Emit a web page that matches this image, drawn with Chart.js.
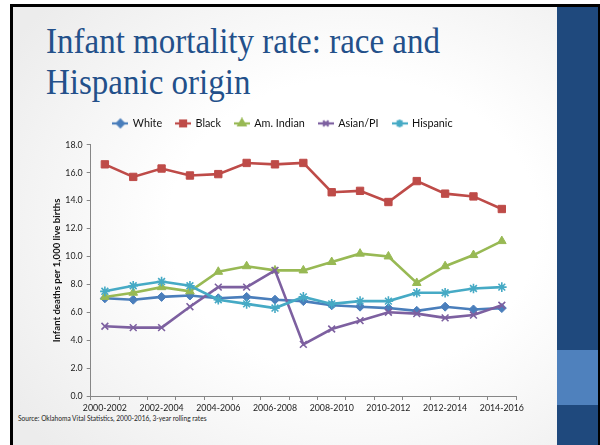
<!DOCTYPE html>
<html>
<head>
<meta charset="utf-8">
<script src="https://cdn.jsdelivr.net/npm/chart.js@4"></script>
<style>
html,body{margin:0;padding:0;}
body{width:600px;height:445px;position:relative;overflow:hidden;background:#fff;font-family:Lato,"Open Sans",sans-serif;}
#frame{position:absolute;left:10px;top:4px;width:590px;height:441px;box-sizing:border-box;border-left:3px solid #000;border-top:3px solid #000;
  background:radial-gradient(ellipse 70% 75% at 58% 50%, #ffffff 45%, #ececec 100%);}
#side{position:absolute;left:557px;top:7px;width:41px;height:438px;background:#1F497D;}
#sideLight{position:absolute;left:557px;top:350px;width:41px;height:55px;background:#4F81BD;}
#rightEdge{position:absolute;left:598px;top:4px;width:2px;height:441px;background:#000;}
#title{position:absolute;left:46px;top:21px;font-family:"Liberation Serif","DejaVu Serif",serif;font-size:35px;line-height:41px;color:#23508A;white-space:nowrap;transform-origin:0 0;}
#source{position:absolute;left:18px;top:414px;font-size:6.6px;color:#222;white-space:nowrap;}
#wrap{position:absolute;left:0;top:0;width:600px;height:445px;}
</style>
</head>
<body>
<div id="frame"></div>
<div id="side"></div>
<div id="sideLight"></div>
<div id="rightEdge"></div>
<div id="title"><span id="t1">Infant mortality rate: race and</span><br><span>Hispanic origin</span></div>
<div id="source">Source: Oklahoma Vital Statistics, 2000-2016, 3-year rolling rates</div>
<div id="wrap"><canvas id="c" width="600" height="445"></canvas></div>
<script>
// ---- data ----
const categories = ['2000-2002','2001-2003','2002-2004','2003-2005','2004-2006','2005-2007','2006-2008','2007-2009',
  '2008-2010','2009-2011','2010-2012','2011-2013','2012-2014','2013-2015','2014-2016'];
const seriesNames = ['White','Black','Am. Indian','Asian/PI','Hispanic'];
const white    = [7.0,6.9,7.1,7.2,7.0,7.1,6.9,6.8,6.5,6.4,6.3,6.1,6.4,6.2,6.3];
const black    = [16.6,15.7,16.3,15.8,15.9,16.7,16.6,16.7,14.6,14.7,13.9,15.4,14.5,14.3,13.4];
const amIndian = [7.1,7.4,7.8,7.5,8.9,9.3,9.0,9.0,9.6,10.2,10.0,8.1,9.3,10.1,11.1];
const asianPI  = [5.0,4.9,4.9,6.4,7.8,7.8,9.0,3.7,4.8,5.4,6.0,5.9,5.6,5.8,6.5];
const hispanic = [7.5,7.9,8.2,7.9,6.9,6.6,6.3,7.1,6.6,6.8,6.8,7.4,7.4,7.7,7.8];
const yTicks = {min:0, max:18, step:2};

// ---- title fit ----
(function(){
  const t1 = document.getElementById('t1');
  const w = t1.getBoundingClientRect().width;
  document.getElementById('title').style.transform = 'scaleX(' + (394 / w) + ')';
})();

const colors  = ['#4A7EBB','#BE4B48','#98B954','#7D60A0','#46AAC5'];
const styles  = ['rectRot','rect','triangle','crossRot','star'];
const radii   = [4.5,5.2,5,4.8,4.8];
const values  = [white, black, amIndian, asianPI, hispanic];

function makeIcon(color, style, r){
  const c = document.createElement('canvas');
  c.width = 16; c.height = 12;
  const ctx = c.getContext('2d');
  ctx.strokeStyle = color; ctx.lineWidth = 2.2;
  ctx.beginPath(); ctx.moveTo(0,6); ctx.lineTo(16,6); ctx.stroke();
  ctx.fillStyle = color; ctx.strokeStyle = color;
  if (Chart.helpers && Chart.helpers.drawPoint) {
    Chart.helpers.drawPoint(ctx, {pointStyle: style, radius: r, borderWidth: 1.5, rotation: 0}, 8, 6);
  }
  return c;
}
const icons = colors.map((c,i) => makeIcon(c, styles[i], radii[i]*0.8));

const datasets = values.map((v,i) => ({
  label: seriesNames[i],
  data: v,
  borderColor: colors[i],
  backgroundColor: colors[i],
  borderWidth: 2.6,
  pointStyle: styles[i],
  pointRadius: radii[i],
  pointBorderWidth: (styles[i]==='crossRot'||styles[i]==='star') ? 1.6 : 1,
  pointBorderColor: colors[i],
  pointBackgroundColor: colors[i],
  tension: 0,
  order: 5 - i
}));

const legendGap = {
  id: 'legendGap',
  beforeInit(chart){
    const lg = chart.legend;
    if (!lg) return;
    const fit = lg.fit;
    lg.fit = function(){ fit.call(this); this.height += 6; };
  }
};

new Chart(document.getElementById('c'), {
  type: 'line',
  data: {labels: categories, datasets: datasets},
  plugins: [legendGap],
  options: {
    responsive: false,
    animation: false,
    events: [],
    layout: {padding: {left: 50, right: 84, top: 104, bottom: 29}},
    plugins: {
      tooltip: {enabled: false},
      legend: {
        position: 'top',
        labels: {
          usePointStyle: true,
          pointStyleWidth: 14,
          padding: 14,
          color: '#111',
          font: {family: 'Lato', size: 10.8},
          sort: (a,b) => a.datasetIndex - b.datasetIndex,
          generateLabels: (chart) => Chart.defaults.plugins.legend.labels.generateLabels(chart)
            .map(l => Object.assign(l, {pointStyle: icons[l.datasetIndex]}))
        }
      }
    },
    scales: {
      x: {
        offset: true,
        afterFit: s => { s.height = 20; },
        grid: {display: true, offset: true, drawOnChartArea: false, tickLength: 4, color: '#868686'},
        border: {color: '#868686', width: 1},
        ticks: {
          autoSkip: false, maxRotation: 0, padding: 3, color: '#222',
          font: {family: 'Lato', size: 8.8},
          callback: function(val, idx){ return idx % 2 === 0 ? categories[idx] : ''; }
        }
      },
      y: {
        min: yTicks.min, max: yTicks.max,
        afterFit: s => { s.width = 40.7; },
        grid: {display: true, drawOnChartArea: false, tickLength: 4, color: '#868686'},
        border: {color: '#868686', width: 1},
        ticks: {stepSize: yTicks.step, padding: 4, color: '#222', font: {family: 'Lato', size: 8.8},
          callback: v => Number(v).toFixed(1)},
        title: {display: true, text: 'Infant deaths per 1,000 live births', color: '#111',
          font: {family: 'Lato', size: 9.6, weight: 'bold'}, padding: {top: 1, bottom: 0}}
      }
    }
  }
});
</script>
</body>
</html>
